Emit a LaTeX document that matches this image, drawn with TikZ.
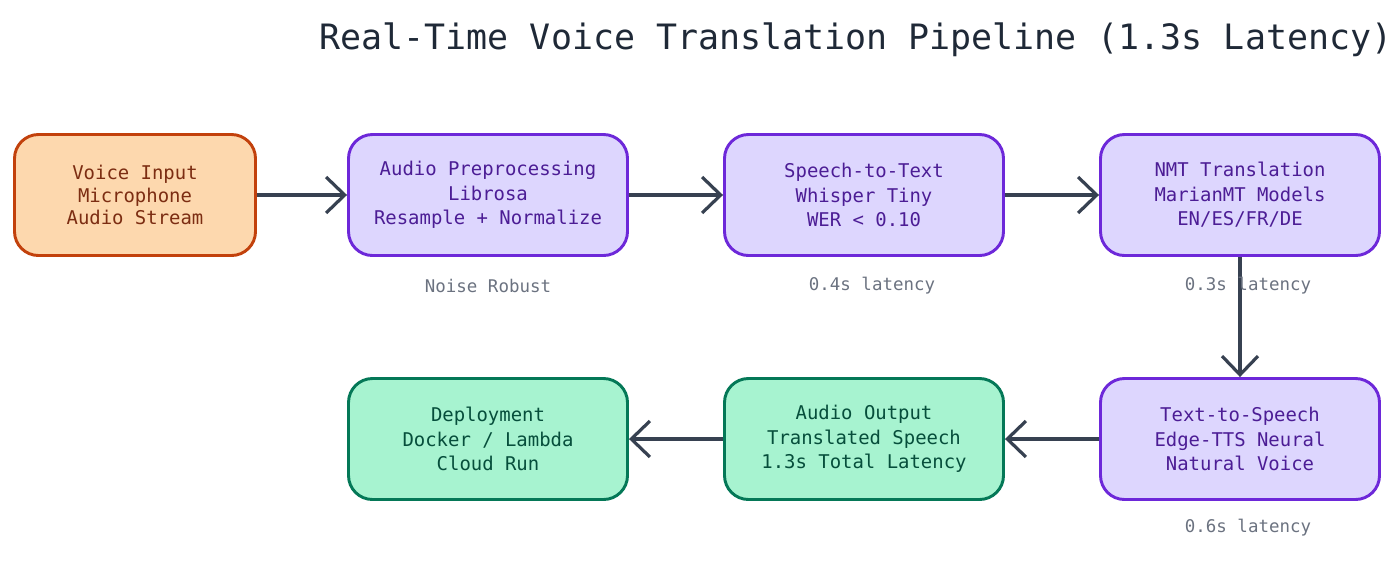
\documentclass[tikz,border=0pt]{standalone}
\usepackage{fontspec}
\setmonofont{DejaVu Sans Mono}
\usetikzlibrary{arrows.meta}
\definecolor{ofill}{HTML}{FDD8AE}\definecolor{odraw}{HTML}{C2410C}\definecolor{otext}{HTML}{7C2D12}
\definecolor{pfill}{HTML}{DDD6FE}\definecolor{pdraw}{HTML}{6D28D9}\definecolor{ptext}{HTML}{4C1D95}
\definecolor{gfill}{HTML}{A7F3D0}\definecolor{gdraw}{HTML}{047857}\definecolor{gtext}{HTML}{064E3B}
\definecolor{arr}{HTML}{374151}\definecolor{lbl}{HTML}{6B7280}\definecolor{ttl}{HTML}{1F2937}
\begin{document}
\begin{tikzpicture}[x=0.75pt,y=-0.75pt,
 box/.style={rounded corners=18pt,line width=2.2pt,minimum width=279*0.75pt,minimum height=121*0.75pt,align=center,
   font=\ttfamily\fontsize{14.2}{18.4}\selectfont},
 obox/.style={box,fill=ofill,draw=odraw,text=otext,minimum width=241*0.75pt},
 pbox/.style={box,fill=pfill,draw=pdraw,text=ptext},
 gbox/.style={box,fill=gfill,draw=gdraw,text=gtext},
 lab/.style={text=lbl,font=\ttfamily\fontsize{13.1}{15}\selectfont},
 conn/.style={draw=arr,line width=2.4pt,-{Straight Barb[length=14pt,width=27pt,line width=2.4pt]}}]
\useasboundingbox (0,0) rectangle (1400,562);
\node[text=ttl,font=\ttfamily\fontsize{26.2}{30}\selectfont] (t) at (856,40) {Real-Time Voice Translation Pipeline (1.3s Latency)};
\node[obox] (vi) at (135,195) {\raisebox{-3pt}{\shortstack{Voice Input\\Microphone\\Audio Stream}}};
\node[pbox] (ap) at (488,195) {Audio Preprocessing\\Librosa\\Resample + Normalize};
\node[pbox] (st) at (864,195) {Speech-to-Text\\Whisper Tiny\\WER < 0.10};
\node[pbox] (nmt) at (1240,195) {NMT Translation\\MarianMT Models\\EN/ES/FR/DE};
\node[pbox] (tts) at (1240,439) {Text-to-Speech\\Edge-TTS Neural\\Natural Voice};
\node[gbox] (ao) at (864,439) {Audio Output\\Translated Speech\\1.3s Total Latency};
\node[gbox] (dep) at (488,439) {Deployment\\Docker / Lambda\\Cloud Run};
\draw[conn] (vi) -- (ap);
\draw[conn] (ap) -- (st);
\draw[conn] (st) -- (nmt);
\draw[conn] (nmt) -- (tts);
\draw[conn] (tts) -- (ao);
\draw[conn] (ao) -- (dep);
\node[lab] (l1) at (488,286) {Noise Robust};
\node[lab] (l2) at (872,286) {0.4s latency};
\node[lab] (l3) at (1248,286) {0.3s latency};
\node[lab] (l4) at (1248,528) {0.6s latency};
\end{tikzpicture}
\end{document}
